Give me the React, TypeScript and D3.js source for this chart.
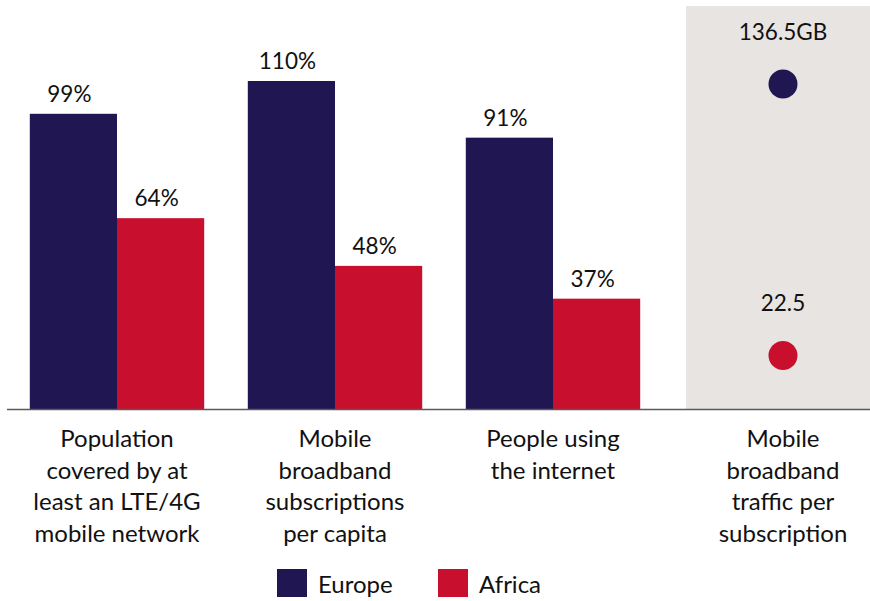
import React from "react";
import * as d3 from "d3";

const categories = ["Population covered by at least an LTE/4G mobile network", "Mobile broadband subscriptions per capita", "People using the internet"];
const categoryLines = [
  ["Population", "covered by at", "least an LTE/4G", "mobile network"],
  ["Mobile", "broadband", "subscriptions", "per capita"],
  ["People using", "the internet"],
];
const europeValues = [99, 110, 91];
const africaValues = [64, 48, 37];
const seriesNames = ["Europe", "Africa"];
const trafficLabel = ["Mobile", "broadband", "traffic per", "subscription"];
const trafficValues = [136.5, 22.5];
const trafficLabels = ["136.5GB", "22.5"];

const W = 870;
const H = 601;
const baseY = 409;
const COLORS = { Europe: "#201652", Africa: "#C8102E" };
const FONT = "Lato, 'Open Sans', sans-serif";

export default function App() {
  const x = d3.scaleBand<string>().domain(categories).range([8, 662]).paddingInner(0.2).paddingOuter(0.1);
  const xs = d3.scaleBand<string>().domain(seriesNames).range([0, x.bandwidth()]).padding(0);
  const y = d3.scaleLinear().domain([0, 110]).range([baseY, 81]);
  const yDot = d3.scaleLinear().domain([0, 136.5]).range([baseY, 84]);
  const dotX = 783;
  const lineH = 31.5;

  return (
    <svg width={W} height={H} style={{ position: "absolute", left: 0, top: 0, fontFamily: FONT }}>
      <rect x={686} y={6} width={W - 686} height={baseY - 6} fill="#E7E4E2" />
      {categories.map((c, i) => {
        const x0 = x(c)!;
        const vals = [europeValues[i], africaValues[i]];
        return (
          <g key={c}>
            {seriesNames.map((s, j) => {
              const bx = x0 + xs(s)!;
              const by = y(vals[j]);
              return (
                <g key={s}>
                  <rect x={bx} y={by} width={xs.bandwidth()} height={baseY - by} fill={(COLORS as any)[s]} />
                  <text x={bx + xs.bandwidth() / 2 - 4} y={by - 12} textAnchor="middle" fontSize={22.5} fill="#111">
                    {vals[j]}%
                  </text>
                </g>
              );
            })}
            {categoryLines[i].map((l, k) => (
              <text key={k} x={x0 + x.bandwidth() / 2} y={447 + k * lineH} textAnchor="middle" fontSize={24} fill="#111">
                {l}
              </text>
            ))}
          </g>
        );
      })}
      <line x1={7} x2={W} y1={baseY + 0.5} y2={baseY + 0.5} stroke="#5a5a5a" strokeWidth={1.5} />
      {trafficValues.map((v, i) => (
        <g key={i}>
          <circle cx={dotX} cy={yDot(v)} r={14.5} fill={(COLORS as any)[seriesNames[i]]} />
          <text x={dotX} y={yDot(v) - 44} textAnchor="middle" fontSize={22.5} fill="#111">
            {trafficLabels[i]}
          </text>
        </g>
      ))}
      {trafficLabel.map((l, k) => (
        <text key={k} x={dotX} y={447 + k * lineH} textAnchor="middle" fontSize={24} fill="#111">
          {l}
        </text>
      ))}
      {seriesNames.map((s, i) => {
        const lx = 277 + i * 161;
        return (
          <g key={s}>
            <rect x={lx} y={569} width={30} height={28} fill={(COLORS as any)[s]} />
            <text x={lx + 41} y={593} fontSize={24} fill="#111">
              {s}
            </text>
          </g>
        );
      })}
    </svg>
  );
}
